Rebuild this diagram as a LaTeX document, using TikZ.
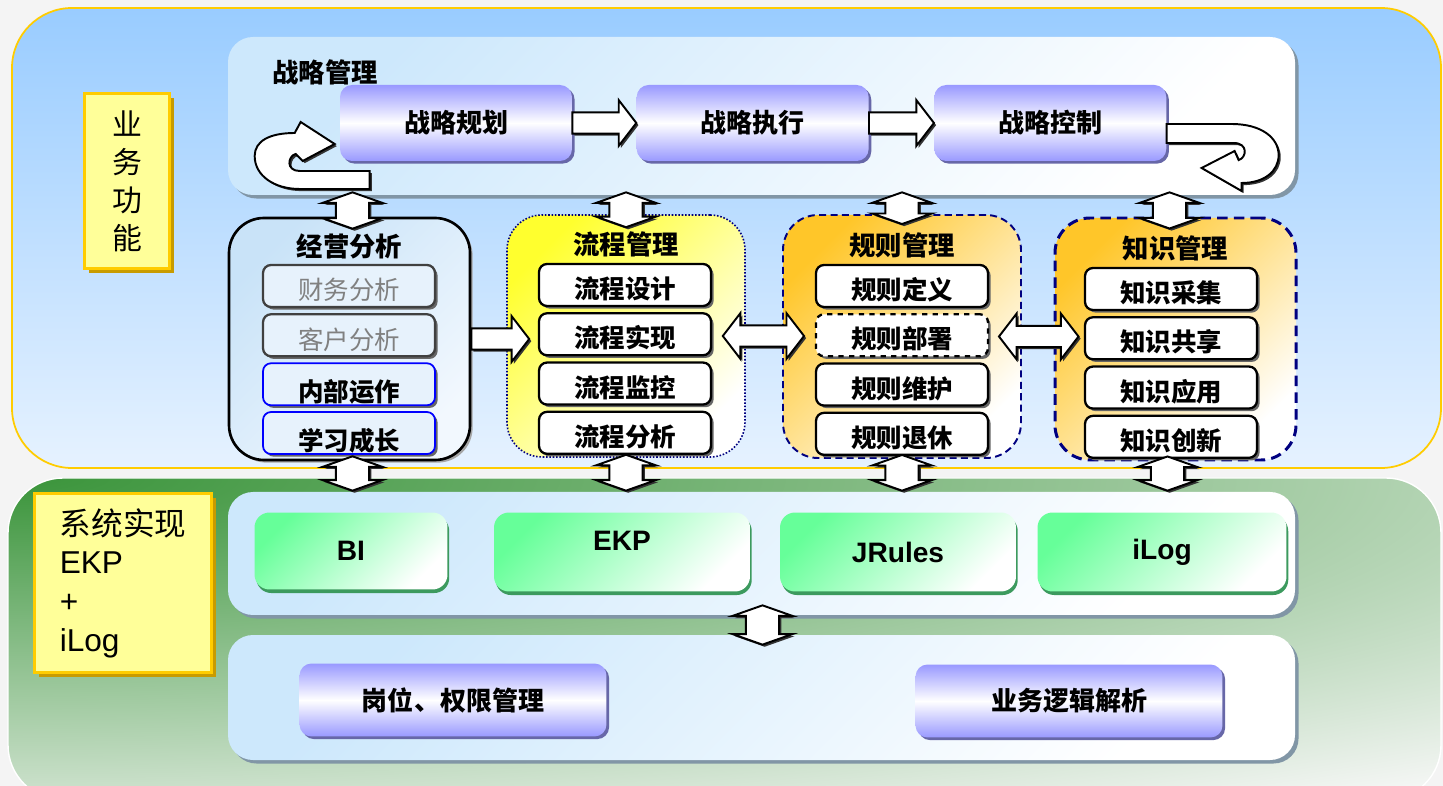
\documentclass[tikz,border=0pt]{standalone}
\usepackage{fontspec}
\setmainfont{Liberation Sans}
\newfontfamily\cjk{Noto Sans CJK SC}
\usepackage{tikz}
\usetikzlibrary{positioning, fit, calc, shadows}

\definecolor{canvasgrey}{HTML}{F4F4F4}
\definecolor{skytop}{HTML}{99CCFF}
\definecolor{skybot}{HTML}{E6F2FF}
\definecolor{gold}{HTML}{FFCC00}
\definecolor{goldshade}{HTML}{C89B00}
\definecolor{paleyel}{HTML}{FFFF99}
\definecolor{panelblue}{HTML}{CDE8FC}
\definecolor{panelshade}{HTML}{8196A6}
\definecolor{lilac}{HTML}{9999FF}
\definecolor{lilacshade}{HTML}{6767A8}
\definecolor{mint}{HTML}{66FF99}
\definecolor{mintshade}{HTML}{3C9A5E}
\definecolor{grass}{HTML}{3A943A}
\definecolor{mist}{HTML}{F4F6F4}
\definecolor{ice}{HTML}{C9E3F8}
\definecolor{icelight}{HTML}{F2F8FE}
\definecolor{amber}{HTML}{FFC629}
\definecolor{lemon}{HTML}{FFFF2E}
\definecolor{navy}{HTML}{000080}

\pgfdeclareradialshading{greenglow}{\pgfpoint{0bp}{0bp}}{color(0bp)=(grass); color(12.5bp)=(mist); color(50bp)=(mist)}

% fat block arrows between two named points
\newcommand\fatR[2]{\draw[fatarrow] let \p1=#1, \p2=#2 in
  (\x1,\y1+6pt) -- (\x2-10pt,\y1+6pt) -- (\x2-10pt,\y1+13pt) -- (\x2,\y1)
  -- (\x2-10pt,\y1-13pt) -- (\x2-10pt,\y1-6pt) -- (\x1,\y1-6pt) -- cycle;}
\newcommand\fatLR[2]{\draw[fatarrow] let \p1=#1, \p2=#2 in
  (\x1,\y1) -- (\x1+10pt,\y1+13pt) -- (\x1+10pt,\y1+6pt) -- (\x2-10pt,\y1+6pt)
  -- (\x2-10pt,\y1+13pt) -- (\x2,\y1) -- (\x2-10pt,\y1-13pt) -- (\x2-10pt,\y1-6pt)
  -- (\x1+10pt,\y1-6pt) -- (\x1+10pt,\y1-13pt) -- cycle;}
\newcommand\fatUD[2]{\draw[fatarrow] let \p1=#1, \p2=#2 in
  (\x1,\y1) -- (\x1+17pt,\y1-6pt) -- (\x1+9.5pt,\y1-6pt) -- (\x1+9.5pt,\y2+6pt)
  -- (\x1+17pt,\y2+6pt) -- (\x1,\y2) -- (\x1-17pt,\y2+6pt) -- (\x1-9.5pt,\y2+6pt)
  -- (\x1-9.5pt,\y1-6pt) -- (\x1-17pt,\y1-6pt) -- cycle;}

\begin{document}
\begin{tikzpicture}[
    x=0.02cm, y=-0.02cm,
    fatarrow/.style={draw=black, line width=1.1pt, fill=white,
      drop shadow={shadow xshift=1.2pt, shadow yshift=-1.2pt, opacity=1, fill=black!80}},
    panel/.style={inner sep=0pt, rounded corners=0.5cm, left color=panelblue, right color=white,
      shading angle=45, drop shadow={shadow xshift=2pt, shadow yshift=-2pt, opacity=1, fill=panelshade}},
    yellowlab/.style={inner sep=0pt, draw=gold, line width=1.6pt, fill=paleyel,
      drop shadow={shadow xshift=2.5pt, shadow yshift=-2.5pt, opacity=1, fill=goldshade}},
    stratbox/.style={inner sep=0pt, rounded corners=0.24cm, minimum width=4.64cm, minimum height=1.52cm,
      top color=lilac, bottom color=lilac, middle color=white,
      drop shadow={shadow xshift=1.5pt, shadow yshift=-1.5pt, opacity=1, fill=lilacshade},
      font=\cjk\bfseries\fontsize{14.8}{16}\selectfont},
    grptitle/.style={inner sep=0pt, font=\cjk\bfseries\fontsize{15}{16}\selectfont},
    jybox/.style={inner sep=0pt, rounded corners=0.7cm, draw=black, line width=1.5pt,
      left color=ice, right color=icelight, shading angle=45,
      drop shadow={shadow xshift=1.5pt, shadow yshift=-1.5pt, opacity=1, fill=gray!70}},
    lcbox/.style={inner sep=0pt, rounded corners=0.7cm, draw=navy, line width=0.9pt, densely dotted,
      left color=lemon, right color=white, shading angle=45},
    gzbox/.style={inner sep=0pt, rounded corners=0.7cm, draw=navy, line width=1.1pt,
      dash pattern=on 4pt off 2.5pt, left color=amber, right color=white, shading angle=45},
    zsbox/.style={gzbox, line width=1.7pt, dash pattern=on 6pt off 3.5pt},
    item/.style={inner sep=0pt, rounded corners=0.16cm, minimum width=3.44cm, minimum height=0.84cm,
      draw=black, line width=1.3pt, fill=white, text height=17pt,
      font=\cjk\bfseries\fontsize{14.5}{16}\selectfont,
      drop shadow={shadow xshift=1.5pt, shadow yshift=-1.5pt, opacity=1, fill=black!60}},
    jyitem/.style={item, draw=black!75, fill=ice!45!white, text=gray,
      font=\cjk\fontsize{14.5}{16}\selectfont},
    jyblue/.style={item, draw=blue, line width=1pt, fill=ice!45!white, text height=21pt},
    sysbox/.style={inner sep=0pt, rounded corners=0.3cm, minimum height=1.58cm,
      left color=mint, right color=white, shading angle=45,
      font=\bfseries\fontsize{16}{18}\selectfont,
      drop shadow={shadow xshift=1pt, shadow yshift=-2pt, opacity=1, fill=mintshade}}
  ]
  \useasboundingbox (0,0) rectangle (1443,786);
  \clip (0,0) rectangle (1443,786);
  \fill[canvasgrey] (0,0) rectangle (1443,786);

  % two big areas
  \draw[gold, line width=1pt, top color=skytop, bottom color=skybot, rounded corners=1.2cm]
    (12,8) rectangle (1441,468);
  \begin{scope}
    \clip[rounded corners=1.1cm] (8,478) rectangle (1441,800);
    \shade[shading=greenglow] (-4407,-322) rectangle (4423,1278);
  \end{scope}
  \draw[white, line width=0.8pt, rounded corners=1.1cm] (8,478) rectangle (1441,800);

  \node[yellowlab, minimum width=1.7cm, minimum height=3.5cm, align=center,
    font=\cjk\fontsize{17}{21.6}\selectfont] (bizlab) at (127,181) {业\\务\\功\\能};
  \node[yellowlab, minimum width=3.54cm, minimum height=3.58cm, align=left,
    font=\fontsize{18}{22}\selectfont] (syslab) at (123,583) {{\cjk 系统实现}\\EKP\\+\\iLog};

  % panels
  \node[panel, fit={(228,37) (1295,195)}] (strat) {};
  \node[panel, fit={(228,492) (1295,615)}] (sys) {};
  \node[panel, fit={(228,635) (1295,760)}] (base) {};

  % strategy row
  \node[grptitle, anchor=west] (strattitle) at (272,72) {战略管理};
  \node[stratbox] (plan) at (456,123) {战略规划};
  \node[stratbox, right=1.28cm of plan] (exec) {战略执行};
  \node[stratbox, right=1.3cm of exec] (ctrl) {战略控制};

  % four groups
  \node[jybox, fit={(229,218) (470,460)}] (jy) {};
  \node[lcbox, fit={(507,215) (745,457)}] (lc) {};
  \node[gzbox, fit={(783,215) (1021,458)}] (gz) {};
  \node[zsbox, fit={(1055,218) (1296,460)}] (zs) {};
  \node[grptitle, below=0.34cm of jy.north] (jyt) {经营分析};
  \node[grptitle, below=0.34cm of lc.north] (lct) {流程管理};
  \node[grptitle, below=0.36cm of gz.north] (gzt) {规则管理};
  \node[grptitle, below=0.38cm of zs.north] (zst) {知识管理};

  \node[jyitem] (jy1) at (349,286) {财务分析};
  \node[jyitem, below=0.1cm of jy1] (jy2) {客户分析};
  \node[jyblue, below=0.1cm of jy2] (jy3) {内部运作};
  \node[jyblue, below=0.1cm of jy3] (jy4) {学习成长};

  \node[item] (lc1) at (625,285) {流程设计};
  \node[item, below=0.1cm of lc1] (lc2) {流程实现};
  \node[item, below=0.1cm of lc2] (lc3) {流程监控};
  \node[item, below=0.1cm of lc3] (lc4) {流程分析};

  \node[item] (gz1) at (902,286) {规则定义};
  \node[item, dashed, below=0.1cm of gz1] (gz2) {规则部署};
  \node[item, below=0.1cm of gz2] (gz3) {规则维护};
  \node[item, below=0.1cm of gz3] (gz4) {规则退休};

  \node[item] (zs1) at (1171,289) {知识采集};
  \node[item, below=0.1cm of zs1] (zs2) {知识共享};
  \node[item, below=0.1cm of zs2] (zs3) {知识应用};
  \node[item, below=0.1cm of zs3] (zs4) {知识创新};

  % systems
  \node[sysbox, minimum width=3.86cm, minimum height=1.54cm] (bi) at (351,551) {BI};
  \node[sysbox, minimum width=5.12cm, text depth=0.44cm] (ekp) at (622,552) {EKP};
  \node[sysbox, minimum width=4.72cm] (jrules) at (898,552) {JRules};
  \node[sysbox, minimum width=4.98cm] (ilog) at (1162,552) {iLog};

  \node[stratbox, minimum width=6.14cm, minimum height=1.46cm] (post) at (453,700) {岗位、权限管理};
  \node[stratbox, minimum width=6.14cm, minimum height=1.46cm] (logic) at (1069,701) {业务逻辑解析};

  % arrows
  \fatR{(plan.east)}{(exec.west)}
  \fatR{(exec.east)}{(ctrl.west)}
  \draw[fatarrow, shift={(plan.west)}] (30,66) -- (-40,66)
    .. controls (-65,66) and (-85,53) .. (-85,33) .. controls (-85,18) and (-70,10) .. (-45,10)
    -- (-39,-1) -- (-5,21) -- (-37,38) -- (-44,31)
    .. controls (-52,33) and (-54,48) .. (-40,48) -- (30,48) -- cycle;
  \draw[fatarrow, shift={(ctrl.east)}] (0,1) -- (65,1)
    .. controls (95,1) and (112,15) .. (112,32) .. controls (112,48) and (98,60) .. (75,60)
    -- (75,68) -- (35,45) -- (68,28) -- (72,37)
    .. controls (80,35) and (82,20) .. (67,20) -- (0,20) -- cycle;

  \fatUD{($(jy.north |- strat.south)+(3,-3)$)}{($(jy.north)+(3,12)$)}
  \fatUD{($(lc.north |- strat.south)+(0,-3)$)}{($(lc.north)+(0,13)$)}
  \fatUD{($(gz.north |- strat.south)+(0,-3)$)}{($(gz.north)+(0,10)$)}
  \fatUD{($(zs.north |- strat.south)+(-6,-3)$)}{($(zs.north)+(-6,12)$)}

  \fatR{(jy.east)}{($(lc.west)+(23,0)$)}
  \fatLR{($(lc.east)+(-23,0)$)}{($(gz.west)+(22,0)$)}
  \fatLR{($(gz.east)+(-23,0)$)}{($(zs.west)+(25,0)$)}

  \fatUD{($(jy.south)+(3,-5)$)}{($(jy.south |- sys.north)+(3,-1)$)}
  \fatUD{($(lc.south)+(0,-3)$)}{($(lc.south |- sys.north)+(0,-1)$)}
  \fatUD{($(gz.south)+(0,-4)$)}{($(gz.south |- sys.north)+(0,-1)$)}
  \fatUD{($(zs.south)+(-8,-5)$)}{($(zs.south |- sys.north)+(-8,-1)$)}
  \fatUD{($(sys.south)+(1,-10)$)}{($(base.north)+(1,10)$)}
\end{tikzpicture}
\end{document}
